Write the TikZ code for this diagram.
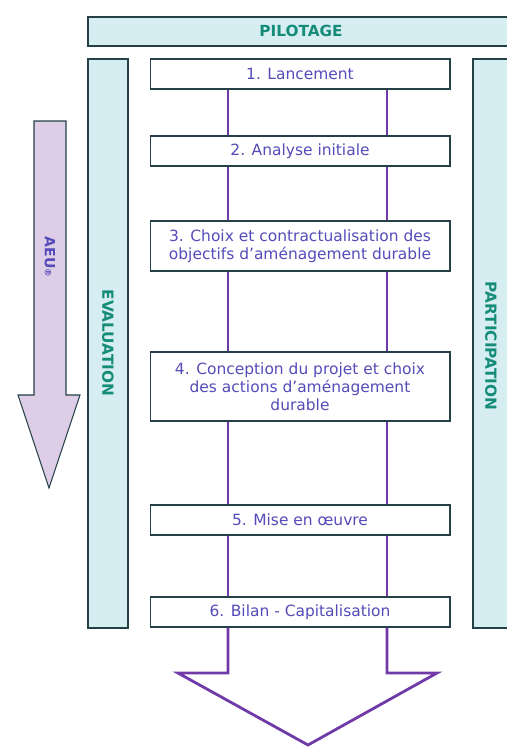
\documentclass[tikz,border=0pt]{standalone}
\usepackage{fontspec}
\setmainfont{DejaVu Sans}
\usepackage{tikz}

\definecolor{boxblue}{RGB}{214,237,242}
\definecolor{edge}{RGB}{35,65,70}
\definecolor{tealtext}{RGB}{20,140,120}
\definecolor{steptext}{RGB}{85,75,185}
\definecolor{violetline}{RGB}{112,58,168}
\definecolor{lavender}{RGB}{222,205,230}

\begin{document}
\begin{tikzpicture}[x=0.02cm, y=-0.02cm,
		side/.style={draw=edge, fill=boxblue, line width=0.6pt},
		stepbox/.style={draw=edge, fill=white, line width=0.6pt, minimum width=6cm, inner sep=1pt,
			align=center, text=steptext, font=\fontsize{8.8}{10.2}\selectfont},
		shaft/.style={draw=violetline, line width=1.6pt},
		tag/.style={text=tealtext, font=\fontsize{8.7}{10}\selectfont\bfseries}]
		\useasboundingbox (0, 0) rectangle (507, 747);

		% bandes laterales
		\filldraw[side] (88, 17) rectangle (515, 46);
		\filldraw[side] (88, 59) rectangle (128, 628);
		\filldraw[side] (473, 59) rectangle (515, 628);
		\node[tag] (PI) at (301, 31) {PILOTAGE};
		\node[tag, rotate=-90] (EV) at (108, 343) {EVALUATION};
		\node[tag, rotate=-90] (PA) at (491, 346) {PARTICIPATION};

		% fleche AEU
		\filldraw[draw=edge, fill=lavender, line width=0.6pt] (34, 121) -- (66, 121) -- (66, 395) -- (80, 395)
			-- (49, 488) -- (18, 395) -- (34, 395) -- cycle;
		\node[rotate=-90, text=steptext, font=\fontsize{8}{10}\selectfont\bfseries] (AEU) at (50, 257)
			{AEU{\fontsize{5}{5}\selectfont ®}};

		% etapes
		\node[stepbox, minimum height=0.6cm] (S1) at (300, 74) {1. Lancement};
		\node[stepbox, minimum height=0.6cm] (S2) at (300, 151) {2. Analyse initiale};
		\node[stepbox, minimum height=1.0cm] (S3) at (300, 246)
			{3. Choix et contractualisation des\\objectifs d’aménagement durable};
		\node[stepbox, minimum height=1.38cm] (S4) at (300, 386.5)
			{4. Conception du projet et choix\\des actions d’aménagement\\durable};
		\node[stepbox, minimum height=0.6cm] (S5) at (300, 520) {5. Mise en œuvre};
		\node[stepbox, minimum height=0.6cm] (S6) at (300, 612) {6. Bilan - Capitalisation};

		% grande fleche
		\coordinate (L) at (228, 0);
		\coordinate (R) at (387, 0);
		\coordinate (HL) at (178, 673);
		\coordinate (HT) at (308, 745);
		\coordinate (HR) at (437, 673);
		\foreach \a/\b in {S1/S2, S2/S3, S3/S4, S4/S5, S5/S6} {
			\draw[shaft] (\a.south -| L) -- (\b.north -| L);
			\draw[shaft] (\a.south -| R) -- (\b.north -| R);
		}
		\draw[shaft, line join=miter] (S6.south -| L) -- (HL -| L) -- (HL) -- (HT) -- (HR) -- (HR -| R) -- (S6.south -| R);
	\end{tikzpicture}
\end{document}
